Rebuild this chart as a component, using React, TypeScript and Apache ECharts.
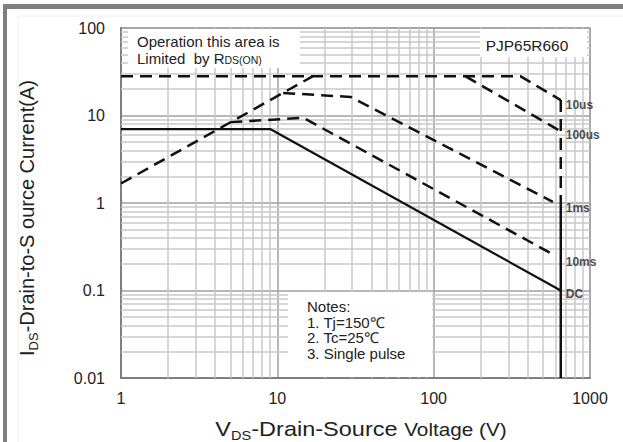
import React, { useEffect, useRef } from 'react';
import * as echarts from 'echarts';

const FONT = '"Liberation Sans", Arial, Helvetica, sans-serif';
const TXT = '#222';

// axis decades & minor grid multipliers
const xDecades = [1, 10, 100];
const yDecades = [0.01, 0.1, 1, 10];
const minorMultipliers = [2, 3, 4, 5, 6, 7, 8, 9];

// curves (V, A)
const rdsLimitV = [1, 16.8];
const rdsLimitI = [1.67, 28];
const us10V = [1, 360, 650];
const us10I = [28, 28, 15];
const us100V = [160, 650];
const us100I = [28, 6.6];
const ms1V = [10.9, 29.4, 579];
const ms1I = [18.1, 16.3, 1.03];
const ms10V = [5.0, 14.7, 588];
const ms10I = [8.4, 9.4, 0.255];
const dcV = [1, 9, 650];
const dcI = [7, 7, 0.1];
const bvdssDashedV = [650, 650];
const bvdssDashedI = [15, 1.2];
const bvdssSolidV = [650, 650];
const bvdssSolidI = [1.2, 0.01];

// curve labels on the right
const curveLabels = ['10us', '100us', '1ms', '10ms', 'DC'];
const curveLabelV = 650;
const curveLabelI = [13.2, 6.0, 0.88, 0.21, 0.091];

const pairs = (xs: number[], ys: number[]) => xs.map((x, i) => [x, ys[i]]);

const fmt = (v: number) => String(parseFloat(Number(v).toPrecision(4)));

const dashed = { color: '#111', width: 2.5, type: [12, 7] as any };
const solid = { color: '#111', width: 2.2, type: 'solid' as any };

function lineSeries(data: number[][], style: any) {
  return {
    type: 'line',
    data,
    symbol: 'none',
    z: 6,
    silent: true,
    lineStyle: style,
  };
}

export default function App() {
  const ref = useRef<HTMLDivElement>(null);
  useEffect(() => {
    document.body.style.margin = '0';
    const chart = echarts.init(ref.current!, null, { renderer: 'svg' });
    const xMinor: number[] = [];
    xDecades.forEach((d) => minorMultipliers.forEach((m) => xMinor.push(+(d * m).toPrecision(6))));
    const yMinor: number[] = [];
    yDecades.forEach((d) => minorMultipliers.forEach((m) => yMinor.push(+(d * m).toPrecision(6))));

    const option: any = {
      animation: false,
      backgroundColor: '#fff',
      grid: {
        left: 121,
        right: 33,
        top: 28,
        bottom: 64,
        show: true,
        borderColor: '#a0a0a0',
        borderWidth: 1.5,
      },
      xAxis: {
        type: 'log',
        logBase: 10,
        min: 1,
        max: 1000,
        axisLine: { show: true, lineStyle: { color: '#808080', width: 2 } },
        axisTick: { show: false },
        axisLabel: { color: TXT, fontSize: 16, fontFamily: FONT, margin: 12, formatter: fmt },
        splitLine: { show: true, lineStyle: { color: '#a0a0a0', width: 1.5 } },
      },
      yAxis: {
        type: 'log',
        logBase: 10,
        min: 0.01,
        max: 100,
        axisLine: { show: true, lineStyle: { color: '#808080', width: 2 } },
        axisTick: { show: false },
        axisLabel: { color: TXT, fontSize: 16, fontFamily: FONT, margin: 16, formatter: fmt },
        splitLine: { show: true, lineStyle: { color: '#a0a0a0', width: 1.5 } },
      },
      series: [
        {
          type: 'line',
          data: [[1, 0.01]],
          symbol: 'none',
          z: 1,
          silent: true,
          lineStyle: { width: 0 },
          markLine: {
            z: 1,
            silent: true,
            symbol: ['none', 'none'],
            label: { show: false },
            lineStyle: { color: '#c8c8c8', width: 1.5, type: 'solid' },
            emphasis: { disabled: true },
            data: [
              ...xMinor.map((v) => ({ xAxis: v })),
              ...yMinor.map((v) => ({ yAxis: v })),
            ],
          },
        },
        lineSeries(pairs(rdsLimitV, rdsLimitI), dashed),
        lineSeries(pairs(us10V, us10I), dashed),
        lineSeries(pairs(us100V, us100I), dashed),
        lineSeries(pairs(ms1V, ms1I), dashed),
        lineSeries(pairs(ms10V, ms10I), dashed),
        lineSeries(pairs(dcV, dcI), solid),
        lineSeries(pairs(bvdssDashedV, bvdssDashedI), dashed),
        lineSeries(pairs(bvdssSolidV, bvdssSolidI), { ...solid, width: 2.5 }),
        {
          type: 'scatter',
          symbolSize: 0,
          silent: true,
          z: 7,
          data: curveLabels.map((n, i) => ({ name: n, value: [curveLabelV, curveLabelI[i]] })),
          label: {
            show: true,
            position: 'right',
            distance: 5,
            formatter: (p: any) => p.name,
            color: TXT,
            fontSize: 12,
            fontWeight: 'bold',
            fontFamily: FONT,
          },
        },
      ],
      graphic: [
        // outer frame
        { type: 'rect', z: 20, silent: true, shape: { x: 3, y: 4, width: 4, height: 440 }, style: { fill: '#7f7f7f' } },
        { type: 'rect', z: 20, silent: true, shape: { x: 3, y: 4, width: 620, height: 5 }, style: { fill: '#7f7f7f' } },
        { type: 'rect', z: 20, silent: true, shape: { x: 18, y: 16, width: 700, height: 500 }, style: { fill: 'none', stroke: '#eeeeee', lineWidth: 1 } },
        // white annotation boxes
        { type: 'rect', z: 10, silent: true, shape: { x: 128, y: 29, width: 172, height: 39 }, style: { fill: '#fff' } },
        { type: 'rect', z: 10, silent: true, shape: { x: 480, y: 29, width: 107, height: 28 }, style: { fill: '#fff' } },
        { type: 'rect', z: 10, silent: true, shape: { x: 288, y: 292, width: 144, height: 85 }, style: { fill: '#fff' } },
        {
          type: 'text', z: 11, silent: true, x: 137, y: 41,
          style: { legacy: false, text: 'Operation this area is', fontSize: 15, fontFamily: FONT, fill: TXT, align: 'left', verticalAlign: 'middle' },
        },
        {
          type: 'text', z: 11, silent: true, x: 137, y: 58,
          style: {
            legacy: false,
            text: '{a|Limited  by R}{s|DS(ON)}',
            align: 'left',
            verticalAlign: 'middle',
            rich: {
              a: { fontSize: 15, fontFamily: FONT, fill: TXT, lineHeight: 15, verticalAlign: 'middle' },
              s: { fontSize: 10.5, fontFamily: FONT, fill: TXT, lineHeight: 8, verticalAlign: 'bottom' },
            },
          },
        },
        {
          type: 'text', z: 11, silent: true, x: 527, y: 45,
          style: { legacy: false, text: 'PJP65R660', fontSize: 15.5, fontFamily: FONT, fill: TXT, align: 'center', verticalAlign: 'middle' },
        },
        {
          type: 'text', z: 11, silent: true, x: 307, y: 299,
          style: {
            legacy: false,
            text: 'Notes:\n1. Tj=150℃\n2. Tc=25℃\n3. Single pulse',
            fontSize: 15, fontFamily: FONT, fill: TXT, lineHeight: 15.5, align: 'left', verticalAlign: 'top',
          },
        },
        // axis titles
        {
          type: 'text', z: 11, silent: true, x: 361, y: 429, scaleX: 1.12,
          style: {
            legacy: false,
            text: '{a|V}{s|DS}{a|-Drain-Source }{b|Voltage (V)}',
            align: 'center',
            verticalAlign: 'middle',
            rich: {
              a: { fontSize: 21, fontFamily: FONT, fill: TXT, lineHeight: 26, verticalAlign: 'middle' },
              b: { fontSize: 18.5, fontFamily: FONT, fill: TXT, lineHeight: 26, verticalAlign: 'middle' },
              s: { fontSize: 13, fontFamily: FONT, fill: TXT, lineHeight: 11, verticalAlign: 'bottom' },
            },
          },
        },
        {
          type: 'text', z: 11, silent: true, x: 27, y: 218, rotation: Math.PI / 2,
          style: {
            legacy: false,
            text: '{a|I}{s|DS}{a|-Drain-to-S ource Current(A)}',
            align: 'center',
            verticalAlign: 'middle',
            rich: {
              a: { fontSize: 20, fontFamily: FONT, fill: TXT, lineHeight: 26, verticalAlign: 'middle' },
              s: { fontSize: 13, fontFamily: FONT, fill: TXT, lineHeight: 11, verticalAlign: 'bottom' },
            },
          },
        },
      ],
    };
    chart.setOption(option);
    return () => chart.dispose();
  }, []);
  return <div ref={ref} style={{ width: 623, height: 442, background: '#fff' }} />;
}
